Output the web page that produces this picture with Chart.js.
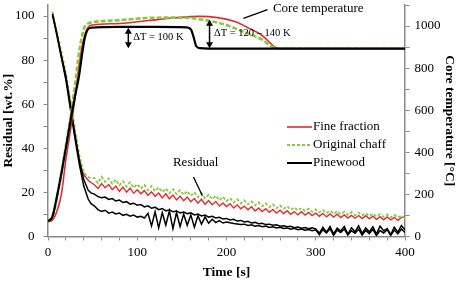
<!DOCTYPE html>
<html><head><meta charset="utf-8">
<script src="https://cdn.jsdelivr.net/npm/chart.js@4.4.0/dist/chart.umd.min.js"></script>
<style>html,body{margin:0;padding:0;background:#fff;}#wrap{width:461px;height:282px;}</style>
</head><body><div id="wrap"><canvas id="c" width="461" height="282"></canvas></div>
<script>
// ---------- Core temperature [°C] (right axis) ----------
const tempTimeFine  = [0,5,10,15,20,25,30,35,40,45,50,80,110,140,170,190,210,225,240,250,255,260,300,400];
const tempFine      = [70,78,120,200,365,500,650,820,940,995,1005,1012,1025,1038,1046,1040,1020,990,955,915,898,893,893,893];
const tempTimeChaff = [0,5,10,15,20,25,30,35,40,45,50,80,110,140,160,180,200,216,230,240,250,258,300,400];
const tempChaff     = [72,95,185,300,430,560,710,880,985,1012,1018,1028,1038,1040,1038,1025,1005,978,955,935,905,893,893,893];
const tempTimePine  = [0,5,10,15,20,25,30,35,38,41,44,48,80,120,155,160,163,166,170,180,250,400];
const tempPine      = [72,95,190,300,420,545,660,770,860,940,980,992,996,996,994,985,950,905,895,893,893,893];

// ---------- Residual [wt.%] (left axis) ----------
const residTimeEarly = [5,10,15,20,25,30,35,40,45,48];
const residFine = [100,92,82,72,60,46,34,28,25.5,24.5,
 23.5,21.8,24.0,22.1,23.6,21.2,22.9,20.5,22.4,20.1,21.9,19.6,21.2,
 19.4,20.8,18.6,20.3,18.2,19.7,17.5,19.4,17.1,18.8,16.6,18.3,
 16.2,17.9,15.8,17.2,15.1,16.9,14.6,16.3,14.4,15.9,13.8,15.2,13.6,
 14.9,12.9,14.3,12.6,13.8,12.1,13.5,11.6,12.9,11.3,12.6,11.0,
 12.3,10.6,11.9,10.4,11.7,10.1,11.3,9.8,11.2,9.7,10.9,9.5,10.6,
 9.2,10.5,8.9,10.2,8.8,10.1,8.6,9.8,8.4,9.6,8.3,9.5,
 8.1,9.4,8.0,9.2,7.8,9.0,7.6,8.9,7.5,8.7,7.3,8.6,9.2];
const residChaff = [102,93,84,74,62,49,37,29,27,26.5,
 26.5,24.2,27.1,24.8,26.3,23.9,25.8,23.2,25.1,22.7,24.6,22.1,23.8,
 21.7,23.4,21.0,22.9,20.6,22.3,20.1,21.8,19.6,21.5,19.2,21.0,
 18.9,20.6,18.4,20.1,17.8,19.6,17.3,19.0,16.9,18.5,16.4,18.0,16.0,
 17.4,15.4,16.9,15.0,16.4,14.6,15.9,14.1,15.5,13.7,15.0,13.3,
 14.6,12.8,14.1,12.5,13.7,12.1,13.2,11.8,12.9,11.5,12.6,11.2,12.3,
 10.9,12.0,10.6,11.7,10.3,11.5,10.1,11.2,9.8,11.0,9.6,10.8,
 9.5,10.6,9.3,10.4,9.1,10.2,8.9,10.0,8.7,9.8,8.6,9.5,8.4];
const residPineA = [101,92,82,73,60,47,35,26,21,19.8,
 19.2,18.1,17.6,17.9,16.8,17.2,16.1,16.5,15.4,15.8,14.7,15.1,14.2,
 14.5,13.4,13.9,12.8,13.3,12.2,12.7,11.6,12.1,11.2,11.6,10.7,
 11.1,10.3,10.7,9.8,10.2,9.3,9.7,8.8,9.2,8.4,8.7,7.9,8.2,
 7.5,7.8,7.0,7.3,6.6,6.9,6.1,6.4,5.8,6.0,5.4,5.6,
 5.1,5.3,4.7,4.9,4.4,4.6,4.0,4.3,3.8,4.1,3.5,3.9,3.4,
 1.5,4.2,2.0,4.5,1.2,3.8,2.5,4.6,1.0,4.0,2.2,4.8,
 1.4,3.9,2.1,4.4,1.1,4.7,2.6,3.6,0.9,4.2,2.0,5.0,3.0];
const residPineB = [101,91,81,71,58,45,33,23,17,15,
 13.8,12.2,11.4,11.9,10.6,11.1,10.2,10.6,9.6,10.1,9.2,9.7,8.8,
 9.2,8.4,10.5,4.8,11.2,3.9,10.8,5.2,11.6,3.6,10.9,4.5,
 10.2,5.1,9.8,4.2,9.4,5.6,8.9,6.0,7.8,6.3,7.2,6.1,6.6,
 6.2,5.9,5.7,5.4,5.6,5.0,5.3,4.7,5.0,4.4,4.7,4.1,
 4.4,3.9,4.2,3.6,3.9,3.3,3.7,3.1,3.4,2.8,3.2,2.6,3.0,
 0.8,3.1,1.6,3.5,0.5,2.9,1.8,3.4,0.7,2.6,1.5,3.3,
 0.6,2.8,1.3,3.2,0.4,2.7,1.6,3.1,0.5,2.9,1.2,3.4,1.8];

const seriesLabels = ['Fine fraction','Original chaff','Pinewood'];
const xTickLabels = [0,100,200,300,400];
const yTickLabels = [0,20,40,60,80,100];
const y2TickLabels = [0,200,400,600,800,1000];

// residual time grid: early samples followed by 4 s samples
const residTimes = residTimeEarly.slice();
for (let t = 52; t <= 400; t += 4) residTimes.push(t);

const RED = '#de2b36', GREEN = '#8dc63f', BLACK = '#000000', AXIS = '#8a8a8a';
const SERIF = "'Liberation Serif','Times New Roman',serif";

function pts(xs, ys){ return xs.map((x,i)=>({x:x, y:ys[i]})); }

const datasets = [
  {label:seriesLabels[2], data:pts(tempTimePine,tempPine), yAxisID:'y2', borderColor:BLACK, borderWidth:2.2, cubicInterpolationMode:'monotone', order:1},
  {label:seriesLabels[1], data:pts(tempTimeChaff,tempChaff), yAxisID:'y2', borderColor:GREEN, borderWidth:2.6, borderDash:[5,2], cubicInterpolationMode:'monotone', order:2},
  {label:seriesLabels[0], data:pts(tempTimeFine,tempFine), yAxisID:'y2', borderColor:RED, borderWidth:1.6, cubicInterpolationMode:'monotone', order:3},
  {label:seriesLabels[2], data:pts(residTimes,residPineA), yAxisID:'y', borderColor:BLACK, borderWidth:1.5, order:4},
  {label:seriesLabels[2], data:pts(residTimes,residPineB), yAxisID:'y', borderColor:BLACK, borderWidth:1.5, order:5},
  {label:seriesLabels[1], data:pts(residTimes,residChaff), yAxisID:'y', borderColor:GREEN, borderWidth:1.8, borderDash:[3,2], order:6},
  {label:seriesLabels[0], data:pts(residTimes,residFine), yAxisID:'y', borderColor:RED, borderWidth:1.4, order:7}
];

function arrow(ctx, x, y1, y2){
  ctx.beginPath(); ctx.moveTo(x,y1+3); ctx.lineTo(x,y2-3); ctx.stroke();
  ctx.beginPath(); ctx.moveTo(x,y1); ctx.lineTo(x-3.5,y1+6); ctx.lineTo(x+3.5,y1+6); ctx.closePath(); ctx.fill();
  ctx.beginPath(); ctx.moveTo(x,y2); ctx.lineTo(x-3.5,y2-6); ctx.lineTo(x+3.5,y2-6); ctx.closePath(); ctx.fill();
}

const annot = {
  id:'annot',
  afterDatasetsDraw(chart){
    const {ctx, scales:{x,y,y2}} = chart;
    ctx.save();
    ctx.fillStyle = '#000'; ctx.strokeStyle = '#000';
    ctx.textBaseline = 'middle'; ctx.textAlign = 'left';
    // Core temperature label
    ctx.font = "13px " + SERIF;
    ctx.fillText('Core temperature', x.getPixelForValue(252), y2.getPixelForValue(1082));
    ctx.lineWidth = 1.3;
    ctx.beginPath(); ctx.moveTo(x.getPixelForValue(219), y2.getPixelForValue(1036)); ctx.lineTo(x.getPixelForValue(246), y2.getPixelForValue(1078)); ctx.stroke();
    // Residual label
    ctx.fillText('Residual', x.getPixelForValue(140), y.getPixelForValue(33.5));
    ctx.beginPath(); ctx.moveTo(x.getPixelForValue(163), y.getPixelForValue(27)); ctx.lineTo(x.getPixelForValue(173), y.getPixelForValue(18.5)); ctx.stroke();
    // delta T arrows
    ctx.lineWidth = 1.5;
    arrow(ctx, x.getPixelForValue(90), y2.getPixelForValue(992), y2.getPixelForValue(895));
    arrow(ctx, x.getPixelForValue(181), y2.getPixelForValue(1030), y2.getPixelForValue(895));
    ctx.font = "10.5px " + SERIF;
    ctx.fillText('\u0394T = 100 K', x.getPixelForValue(95.5), y2.getPixelForValue(948));
    ctx.fillText('\u0394T = 120 \u2013 140 K', x.getPixelForValue(186), y2.getPixelForValue(967));
    // legend
    const ca = chart.chartArea;
    const lx = ca.right - 118, ty = ca.top + 122;
    const items = [[RED,1.6,[]],[GREEN,2,[3,2]],[BLACK,2,[]]];
    ctx.font = "13px " + SERIF;
    items.forEach((it,i)=>{
      const yy = ty + i*18;
      ctx.strokeStyle = it[0]; ctx.lineWidth = it[1]; ctx.setLineDash(it[2]);
      ctx.beginPath(); ctx.moveTo(lx, yy); ctx.lineTo(lx+25, yy); ctx.stroke();
      ctx.setLineDash([]);
      ctx.fillStyle = '#000';
      ctx.fillText(seriesLabels[i], lx+26, yy);
    });
    ctx.restore();
  }
};

const tickFont = {family:SERIF, size:13};
const titleFont = {family:SERIF, size:13.5, weight:'bold'};

new Chart(document.getElementById('c').getContext('2d'), {
  type:'line',
  data:{datasets},
  plugins:[annot],
  options:{
    responsive:false, animation:false, devicePixelRatio:1,
    layout:{padding:{top:5,left:0,right:0,bottom:0}},
    plugins:{legend:{display:false}, tooltip:{enabled:false}},
    elements:{point:{radius:0}, line:{tension:0}},
    scales:{
      x:{type:'linear', min:0, max:400,
        ticks:{stepSize:20, autoSkip:false, maxRotation:0, font:tickFont, color:'#000', padding:4,
          callback:v=> xTickLabels.includes(Math.round(v)) ? String(Math.round(v)) : ''},
        grid:{display:true, drawOnChartArea:false, drawTicks:true, tickLength:4, color:AXIS, lineWidth:1},
        border:{display:true, color:AXIS, width:1.5},
        title:{display:true, text:'Time [s]', font:titleFont, color:'#000', padding:{top:0,bottom:1}},
        afterFit:s=>{s.height=45.5; s.paddingLeft=0; s.paddingRight=0;}
      },
      y:{position:'left', min:0, max:105,
        afterBuildTicks:s=>{s.ticks = s.ticks.filter(t=>t.value<=100);},
        ticks:{stepSize:10, includeBounds:false, autoSkip:false, font:tickFont, color:'#000', padding:9,
          callback:v=> yTickLabels.includes(Math.round(v)) ? String(Math.round(v)) : ''},
        grid:{display:true, drawOnChartArea:false, drawTicks:true, tickLength:4.5, color:AXIS, lineWidth:1},
        border:{display:true, color:AXIS, width:1.5},
        title:{display:true, text:'Residual [wt.%]', font:titleFont, color:'#000', padding:{top:0,bottom:0}},
        afterFit:s=>{s.width=48; s.paddingTop=0; s.paddingBottom=0;}
      },
      y2:{position:'right', min:0, max:1100,
        ticks:{stepSize:100, includeBounds:false, autoSkip:false, font:tickFont, color:'#000', padding:5,
          callback:v=> y2TickLabels.includes(Math.round(v)) ? String(Math.round(v)) : ''},
        grid:{display:true, drawOnChartArea:false, drawTicks:true, tickLength:4.5, color:AXIS, lineWidth:1},
        border:{display:true, color:AXIS, width:1.5},
        title:{display:true, text:'Core temperature [\u00B0C]', font:titleFont, color:'#000', padding:{top:3,bottom:0}},
        afterFit:s=>{s.width=56; s.paddingTop=0; s.paddingBottom=0;}
      }
    }
  }
});
</script>
</body></html>
